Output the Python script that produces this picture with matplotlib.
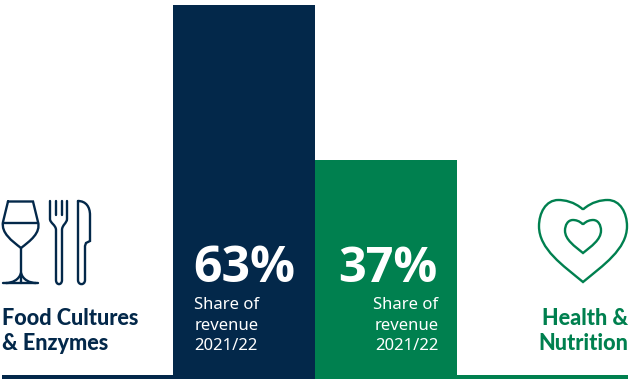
import matplotlib
matplotlib.use('Agg')
import matplotlib.pyplot as plt
from matplotlib.path import Path
from matplotlib.patches import PathPatch

segments = ['Food Cultures\n& Enzymes', 'Health &\nNutrition']
shares = [63, 37]
shareLabels = ['63%', '37%']
captions = ['Share of\nrevenue\n2021/22', 'Share of\nrevenue\n2021/22']

navy = '#03284a'
green = '#00804f'
W, H = 631, 382

def heart(cx, notch, top, bottom, halfW):
    # outline of a heart, from the notch round to the bottom point
    h = bottom - top
    verts = [(cx, notch),
             (cx - halfW * 0.2, top + 0.02 * h), (cx - halfW * 0.42, top), (cx - halfW * 0.56, top),
             (cx - halfW * 0.85, top), (cx - halfW, top + 0.16 * h), (cx - halfW, top + 0.32 * h),
             (cx - halfW, top + 0.6 * h), (cx - halfW * 0.45, top + 0.8 * h), (cx, bottom),
             (cx + halfW * 0.45, top + 0.8 * h), (cx + halfW, top + 0.6 * h), (cx + halfW, top + 0.32 * h),
             (cx + halfW, top + 0.16 * h), (cx + halfW * 0.85, top), (cx + halfW * 0.56, top),
             (cx + halfW * 0.42, top), (cx + halfW * 0.2, top + 0.02 * h), (cx, notch)]
    codes = [Path.MOVETO] + [Path.CURVE4] * 18
    return Path(verts, codes)

def addLine(ax, pts, color, lw=1.7):
    ax.plot([p[0] for p in pts], [p[1] for p in pts], color=color, lw=lw,
            solid_capstyle='round', solid_joinstyle='round')

def addCurve(ax, verts, codes, color, lw=1.7):
    ax.add_patch(PathPatch(Path(verts, codes), fill=False, ec=color, lw=lw, capstyle='round'))

fig = plt.figure(figsize=(W / 100, H / 100), dpi=100, facecolor='white')

# main axes: baseline sits at pixel row 379, one share point is about 5.94 px
ax = fig.add_axes([2 / W, (H - 379.2) / H, 626 / W, 374.0 / H])
ax.set_xlim(-1.704, 2.704)
ax.set_ylim(0, 63)
ax.axis('off')
ax.bar([0, 1], shares, width=1.0, color=[navy, green], linewidth=0)
ax.bar([-1.105, 2.105], [0.7, 0.7], width=1.21, color=[navy, green], linewidth=0)

# big numbers and captions inside the bars
ax.text(-0.355, 18.55, shareLabels[0], color='white', fontsize=36, fontweight='bold',
        family='Open Sans', ha='left', va='center')
ax.text(1.365, 18.55, shareLabels[1], color='white', fontsize=35, fontweight='bold',
        family='Open Sans', ha='right', va='center')
ax.text(-0.35, 9.0, captions[0], color='white', fontsize=12, family='Noto Sans',
        ha='left', va='center', linespacing=1.37)
ax.text(1.37, 9.0, captions[1], color='white', fontsize=12, family='Noto Sans',
        ha='right', va='center', multialignment='right', linespacing=1.37)

# overlay in pixel coordinates for the labels and icons
ov = fig.add_axes([0, 0, 1, 1])
ov.set_xlim(0, W)
ov.set_ylim(H, 0)
ov.axis('off')
ov.patch.set_alpha(0)

ov.text(2, 331, segments[0], color=navy, fontsize=15.6, fontweight='black', family='Lato',
        ha='left', va='center', linespacing=1.22)
ov.text(628.5, 331, segments[1], color=green, fontsize=15.6, fontweight='black', family='Lato',
        ha='right', va='center', multialignment='right', linespacing=1.22)

# wine glass
M, L, C = Path.MOVETO, Path.LINETO, Path.CURVE4
addCurve(ov, [(8, 201.5), (33, 201.5), (38, 222), (41, 233), (30, 241), (21, 248),
              (12, 241), (1, 233), (3, 222), (8, 201.5)],
         [M, L, L, C, C, C, C, C, C, L], navy)
addLine(ov, [(3, 223), (38, 223)], navy)
addLine(ov, [(21, 248), (21, 283)], navy)
addLine(ov, [(3, 283), (38, 283)], navy)
addCurve(ov, [(21, 273), (19, 280), (12, 283), (6, 283)], [M, C, C, C], navy)
addCurve(ov, [(21, 273), (23, 280), (30, 283), (36, 283)], [M, C, C, C], navy)

# fork
addCurve(ov, [(50, 201), (50, 219), (50, 223), (56, 225), (56, 230),
              (56, 280), (56, 285.5), (62, 285.5), (62, 280), (62, 230),
              (62, 225), (67, 223), (67, 219), (67, 201)],
         [M, L, C, C, C, L, C, C, C, L, C, C, C, L], navy)
addLine(ov, [(55.5, 201), (55.5, 215)], navy)
addLine(ov, [(61.5, 201), (61.5, 215)], navy)

# knife
addCurve(ov, [(78, 201), (86, 201), (90, 207), (90, 215), (90, 241), (86, 243), (85, 246),
              (85, 280), (85, 285.5), (78, 285.5), (78, 280), (78, 201)],
         [M, C, C, C, L, L, L, L, C, C, C, L], navy)

# hearts
ov.add_patch(PathPatch(heart(583, 209.5, 200, 282, 44), fill=False, ec=green, lw=1.7))
ov.add_patch(PathPatch(heart(583, 224.5, 220, 253, 18), fill=False, ec=green, lw=1.7))

fig.savefig('out.png', dpi=100)
